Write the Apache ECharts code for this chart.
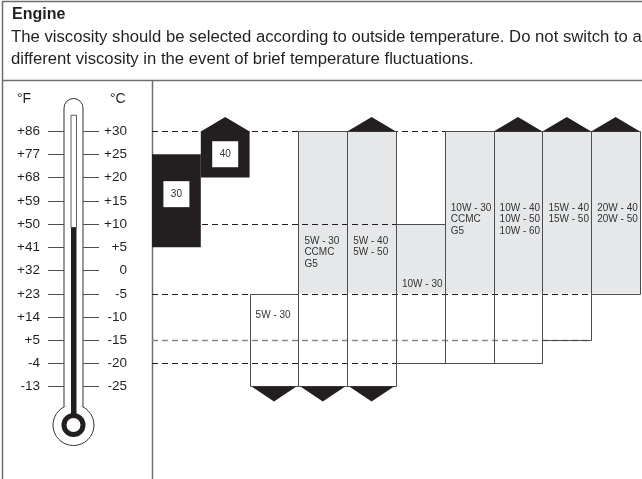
<!DOCTYPE html>
<html>
<head>
<meta charset="utf-8">
<script src="https://cdn.jsdelivr.net/npm/echarts@6/dist/echarts.min.js"></script>
<style>
  html, body { margin: 0; padding: 0; background: #fff; }
  #main { width: 642px; height: 479px; }
</style>
</head>
<body>
<div id="main"></div>
<script>
// oil grades, one column each from left to right
const grades = ['30', '40', '5W - 30', '5W - 30\nCCMC\nG5', '5W - 40\n5W - 50', '10W - 30',
  '10W - 30\nCCMC\nG5', '10W - 40\n10W - 50\n10W - 60', '15W - 40\n15W - 50', '20W - 40\n20W - 50']
// mono = single grade (black block), multi = multigrade (outlined column)
const gradeKind = ['mono', 'mono', 'multi', 'multi', 'multi', 'multi', 'multi', 'multi', 'multi', 'multi']
// usable temperature range in °C
const rangeHigh = [25, 30, -5, 30, 30, 10, 30, 30, 30, 30]
const rangeLow = [5, 20, -25, -25, -25, -20, -20, -20, -15, -5]
// grey (preferred) part in °C, null = none
const shadeHigh = [null, null, null, 30, 30, 10, 30, 30, 30, 30]
const shadeLow = [null, null, null, -5, -5, -5, -5, -5, -5, -5]
// range continues above / below (arrow head)
const openAbove = [false, true, false, false, true, false, false, true, true, true]
const openBelow = [false, false, true, true, true, false, false, false, false, false]

// thermometer scale
const celsiusTicks = [30, 25, 20, 15, 10, 5, 0, -5, -10, -15, -20, -25]
const celsiusLabels = ['+30', '+25', '+20', '+15', '+10', '+5', '0', '-5', '-10', '-15', '-20', '-25']
const fahrenheitLabels = ['+86', '+77', '+68', '+59', '+50', '+41', '+32', '+23', '+14', '+5', '-4', '-13']

// dashed guide lines (°C)
const guideTemps = [30, 10, -5, -15, -20]

// ---- layout only (not data) ----
const labelTemp = [16.4, 25, -9.8, 6.3, 6.3, -3.1, 13.4, 13.4, 13.4, 13.4] // where the grade text sits
const guideEnd = [10, 6, 10, 9, 8] // guide line runs until this column
const guideColor = ['#231f20', '#231f20', '#231f20', '#8a8a8c', '#231f20']

const ink = '#231f20'
const edge = '#4d4d4f'
const shade = '#e6e7e8'
const frame = '#6d6e71'
const font = 'Liberation Sans, Arial, Helvetica, sans-serif'

const chart = echarts.init(document.getElementById('main'))

// grey fill of the multigrade columns
function shadeShape (params, api) {
  const i = params.dataIndex
  if (shadeHigh[i] === null) return { type: 'group', children: [] }
  const w = api.size([1, 0])[0]
  const p0 = api.coord([i, shadeHigh[i]])
  const p1 = api.coord([i, shadeLow[i]])
  return {
    type: 'rect',
    shape: { x: p0[0] - w / 2, y: p0[1], width: w, height: p1[1] - p0[1] },
    style: { fill: shade }
  }
}

// dashed temperature guides
function guideShape (params, api) {
  const i = params.dataIndex
  const w = api.size([1, 0])[0]
  const y = Math.round(api.coord([0, guideTemps[i]])[1]) + 0.5
  const x0 = params.coordSys.x
  return {
    type: 'line',
    shape: { x1: x0, y1: y, x2: x0 + w * guideEnd[i], y2: y },
    style: { stroke: guideColor[i], lineWidth: i === 3 ? 1.3 : 1, lineDash: [6, 4] }
  }
}

// outline / black block, arrows and labels
function columnShape (params, api) {
  const i = params.dataIndex
  const w = api.size([1, 0])[0]
  const c = api.coord([i, rangeHigh[i]])
  const yTop = c[1]
  const yBot = api.coord([i, rangeLow[i]])[1]
  const xl = c[0] - w / 2
  const xr = c[0] + w / 2
  const yLabel = api.coord([i, labelTemp[i]])[1]
  const children = []
  if (gradeKind[i] === 'mono') {
    children.push({ type: 'rect', shape: { x: xl, y: yTop, width: w, height: yBot - yTop }, style: { fill: ink } })
    children.push({ type: 'rect', shape: { x: c[0] - 13, y: yLabel - 13, width: 26, height: 26 }, style: { fill: '#fff' } })
    children.push({
      type: 'text',
      style: { text: grades[i], x: c[0], y: yLabel, align: 'center', verticalAlign: 'middle', fontSize: 10, fontFamily: font, fill: '#333' }
    })
  } else {
    const rx = Math.round(xl) + 0.5
    const ry = Math.round(yTop) + 0.5
    children.push({
      type: 'rect',
      shape: { x: rx, y: ry, width: Math.round(xr) - Math.round(xl), height: Math.round(yBot) - Math.round(yTop) },
      style: { fill: 'none', stroke: edge, lineWidth: 1 }
    })
    children.push({
      type: 'text',
      style: { text: grades[i], x: xl + 6, y: yLabel - 6, align: 'left', verticalAlign: 'top', lineHeight: 11.7, fontSize: 10, fontFamily: font, fill: '#333' }
    })
  }
  if (openAbove[i]) {
    children.push({ type: 'polygon', shape: { points: [[xl, yTop + 0.5], [c[0], yTop - 14], [xr, yTop + 0.5]] }, style: { fill: ink } })
  }
  if (openBelow[i]) {
    children.push({ type: 'polygon', shape: { points: [[xl + 2, yBot], [c[0], yBot + 15], [xr - 2, yBot]] }, style: { fill: ink } })
  }
  return { type: 'group', children: children }
}

// thermometer body (x in px of the left panel, y through the temperature axis)
function thermometerShape (params, api) {
  const yTop = api.coord([0, 37])[1]
  const yInner = api.coord([0, 33.4])[1]
  const yMercury = api.coord([0, 9.2])[1]
  const bulb = api.coord([73.5, -33.3])
  const yJoin = bulb[1] - 18.2
  const yUnit = api.coord([0, 36.8])[1]
  return {
    type: 'group',
    children: [
      { type: 'circle', shape: { cx: bulb[0], cy: bulb[1], r: 20.5 }, style: { fill: '#fff', stroke: '#333', lineWidth: 1 } },
      {
        type: 'path',
        shape: { pathData: 'M64,' + yJoin + ' L64,' + (yTop + 9.5) + ' A9.5,9.5 0 0 1 83,' + (yTop + 9.5) + ' L83,' + yJoin },
        style: { fill: '#fff', stroke: '#333', lineWidth: 1 }
      },
      { type: 'rect', shape: { x: 71, y: yInner, width: 5.5, height: yMercury - yInner }, style: { fill: '#fff', stroke: '#333', lineWidth: 0.8 } },
      { type: 'rect', shape: { x: 71, y: yMercury, width: 5.5, height: bulb[1] - yMercury }, style: { fill: ink } },
      { type: 'circle', shape: { cx: bulb[0], cy: bulb[1], r: 9.5 }, style: { fill: '#fff', stroke: ink, lineWidth: 5 } },
      { type: 'text', style: { text: '°F', x: 17, y: yUnit, verticalAlign: 'middle', fontSize: 14, fontFamily: font, fill: '#231f20' } },
      { type: 'text', style: { text: '°C', x: 110, y: yUnit, verticalAlign: 'middle', fontSize: 14, fontFamily: font, fill: '#231f20' } }
    ]
  }
}

// ticks and labels of the thermometer
function scaleShape (params, api) {
  const i = params.dataIndex
  const y = Math.round(api.coord([0, celsiusTicks[i]])[1]) + 0.5
  const labelStyle = { y: y, verticalAlign: 'middle', align: 'right', fontSize: 13.5, fontFamily: font, fill: '#231f20' }
  return {
    type: 'group',
    children: [
      { type: 'line', shape: { x1: 48, y1: y, x2: 64, y2: y }, style: { stroke: edge, lineWidth: 1 } },
      { type: 'line', shape: { x1: 83, y1: y, x2: 99, y2: y }, style: { stroke: edge, lineWidth: 1 } },
      { type: 'text', style: Object.assign({ text: fahrenheitLabels[i], x: 40 }, labelStyle) },
      { type: 'text', style: Object.assign({ text: celsiusLabels[i], x: 127 }, labelStyle) }
    ]
  }
}

const pxPerDegree = 4.645
const gridTop = 131 - 10 * pxPerDegree
const gridHeight = 80 * pxPerDegree

const option = {
  animation: false,
  grid: [
    { left: 152, top: gridTop, width: 488, height: gridHeight },
    { left: 0, top: gridTop, width: 152, height: gridHeight }
  ],
  xAxis: [
    { type: 'category', gridIndex: 0, data: grades, show: false },
    { type: 'value', gridIndex: 1, min: 0, max: 152, show: false }
  ],
  yAxis: [
    { type: 'value', gridIndex: 0, min: -40, max: 40, show: false },
    { type: 'value', gridIndex: 1, min: -40, max: 40, show: false }
  ],
  graphic: [
    { type: 'line', shape: { x1: 2, y1: 1.5, x2: 642, y2: 1.5 }, style: { stroke: frame, lineWidth: 1.5 } },
    { type: 'line', shape: { x1: 2.5, y1: 1, x2: 2.5, y2: 479 }, style: { stroke: frame, lineWidth: 1.5 } },
    { type: 'line', shape: { x1: 2, y1: 80.5, x2: 642, y2: 80.5 }, style: { stroke: frame, lineWidth: 1.5 } },
    { type: 'line', shape: { x1: 152.5, y1: 80, x2: 152.5, y2: 479 }, style: { stroke: frame, lineWidth: 1.5 } },
    { type: 'text', x: 12, y: 15, style: { text: 'Engine', fontSize: 16, fontWeight: 'bold', fontFamily: font, fill: '#231f20', verticalAlign: 'middle' } },
    { type: 'text', x: 11, y: 37, style: { text: 'The viscosity should be selected according to outside temperature. Do not switch to a', fontSize: 16.7, fontFamily: font, fill: '#231f20', verticalAlign: 'middle' } },
    { type: 'text', x: 11, y: 59, style: { text: 'different viscosity in the event of brief temperature fluctuations.', fontSize: 16.7, fontFamily: font, fill: '#231f20', verticalAlign: 'middle' } }
  ],
  series: [
    {
      type: 'custom', name: 'shade', xAxisIndex: 0, yAxisIndex: 0, z: 1,
      renderItem: shadeShape,
      data: grades.map((g, i) => [i, rangeHigh[i], rangeLow[i]])
    },
    {
      type: 'custom', name: 'guides', xAxisIndex: 0, yAxisIndex: 0, z: 2,
      renderItem: guideShape,
      data: guideTemps.map(t => [0, t])
    },
    {
      type: 'custom', name: 'columns', xAxisIndex: 0, yAxisIndex: 0, z: 3,
      renderItem: columnShape,
      data: grades.map((g, i) => [i, rangeHigh[i], rangeLow[i]])
    },
    {
      type: 'custom', name: 'thermometer', xAxisIndex: 1, yAxisIndex: 1, z: 1,
      renderItem: thermometerShape,
      data: [[73.5, 0]]
    },
    {
      type: 'custom', name: 'scale', xAxisIndex: 1, yAxisIndex: 1, z: 2,
      renderItem: scaleShape,
      data: celsiusTicks.map(t => [0, t])
    }
  ]
}

chart.setOption(option)
</script>
</body>
</html>
